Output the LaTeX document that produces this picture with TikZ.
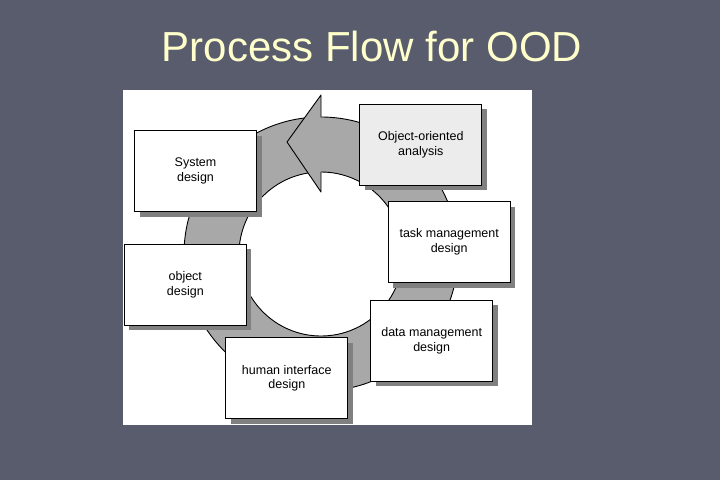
\documentclass[tikz,border=0pt]{standalone}
\usepackage{fontspec}
\setmainfont{Liberation Sans}
\usepackage{tikz}
\usetikzlibrary{shadows}

\definecolor{slate}{RGB}{89,92,109}
\definecolor{titleyellow}{RGB}{255,255,204}
\definecolor{ringgrey}{RGB}{168,168,168}
\definecolor{shadowgrey}{RGB}{128,128,128}
\definecolor{ooagrey}{RGB}{236,236,236}

\begin{document}
\begin{tikzpicture}[x=1pt,y=-1pt]

\tikzstyle{box}=[rectangle,draw=black,fill=white,line width=1pt,minimum width=122pt,minimum height=81pt,inner sep=0pt,align=center,font=\fontsize{12.5}{14.5}\selectfont,drop shadow={shadow xshift=5pt,shadow yshift=-5pt,fill=shadowgrey,opacity=1}]
\tikzstyle{box2}=[box,fill=ooagrey]
\tikzstyle{title}=[text=titleyellow,font=\fontsize{42}{48}\selectfont,anchor=base,inner sep=0pt]
\tikzstyle{rl}=[line width=0.9pt,line join=round]

\fill[slate] (0,0) rectangle (720,480);
\useasboundingbox (0,0) rectangle (720,480);
\node[title] (title) at (372,61.7) {Process Flow for OOD};
\fill[white] (123,90) rectangle (532,425);

% cycle ring with arrow head
\coordinate (c) at (321,254);
\fill[ringgrey,even odd rule] (c) circle[radius=137pt] (c) circle[radius=82pt];
\draw[rl] (c) circle[radius=137pt];
\draw[rl] (c) circle[radius=82pt];
\fill[ringgrey] (321,95) -- (287,142) -- (321,192) -- cycle;
\draw[rl] (321,117) -- (321,95) -- (287,142) -- (321,192) -- (321,172);

\node[box] (system) at (195.5,171) {System\\design};
\node[box2] (ooa) at (420.8,144.7) {Object-oriented\\analysis};
\node[box] (task) at (449.2,242) {task management\\design};
\node[box] (object) at (185.3,284.7) {object\\design};
\node[box] (data) at (431.7,340.7) {data management\\design};
\node[box] (human) at (286.8,378.3) {human interface\\design};
\end{tikzpicture}
\end{document}
